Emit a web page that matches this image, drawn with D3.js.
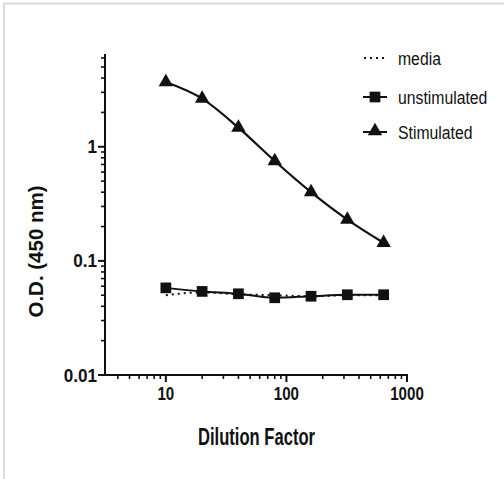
<!DOCTYPE html>
<html>
<head>
<meta charset="utf-8">
<script src="https://cdn.jsdelivr.net/npm/d3@7"></script>
<style>
  body { margin: 0; background: #fff; }
  text { font-family: "Liberation Sans", Arial, sans-serif; fill: #111; }
</style>
</head>
<body>
<svg id="chart" width="504" height="479"></svg>
<script>
// data
var dilution = [10, 20, 40, 80, 160, 320, 640];
var media = [0.050, 0.053, 0.051, 0.050, 0.049, 0.050, 0.050];
var unstimulated = [0.058, 0.054, 0.0515, 0.0475, 0.049, 0.0505, 0.0505];
var stimulated = [3.69, 2.64, 1.47, 0.75, 0.40, 0.23, 0.144];

var xTickValues = [10, 100, 1000];
var xTickLabels = ["10", "100", "1000"];
var yTickValues = [0.01, 0.1, 1];
var yTickLabels = ["0.01", "0.1", "1"];
var xMinorTicks = [4, 5, 6, 7, 8, 9, 20, 30, 40, 50, 60, 70, 80, 90, 200, 300, 400, 500, 600, 700, 800, 900];
var yMinorTicks = [0.02, 0.03, 0.04, 0.05, 0.06, 0.07, 0.08, 0.09, 0.2, 0.3, 0.4, 0.5, 0.6, 0.7, 0.8, 0.9, 2, 3, 4, 5, 6];

var seriesNames = ["media", "unstimulated", "Stimulated"];

var svg = d3.select("#chart");

// light frame around the picture
svg.append("rect")
    .attr("x", 4).attr("y", 3.5)
    .attr("width", 520).attr("height", 500)
    .attr("fill", "none")
    .attr("stroke", "#dcdcdc")
    .attr("stroke-width", 2);

var x = d3.scaleLog().domain([3.13, 1000]).range([105, 407]);
var y = d3.scaleLog().domain([0.01, 6.5]).range([375, 54]);

// squeeze text horizontally (the picture's fonts are narrow)
function squeeze(sel, f) {
    sel.each(function () {
        var w = this.getComputedTextLength();
        d3.select(this).attr("textLength", w * f).attr("lengthAdjust", "spacingAndGlyphs");
    });
}

// x axis
var xAxis = svg.append("g");
xAxis.append("line")
    .attr("x1", x.range()[0] - 1).attr("x2", x.range()[1] + 1)
    .attr("y1", 375).attr("y2", 375)
    .attr("stroke", "#111").attr("stroke-width", 2);
xAxis.selectAll("line.major").data(xTickValues).enter().append("line")
    .attr("class", "major")
    .attr("x1", d => x(d)).attr("x2", d => x(d))
    .attr("y1", 375).attr("y2", 382)
    .attr("stroke", "#111").attr("stroke-width", 2);
xAxis.selectAll("line.minor").data(xMinorTicks).enter().append("line")
    .attr("class", "minor")
    .attr("x1", d => x(d)).attr("x2", d => x(d))
    .attr("y1", 375).attr("y2", 379)
    .attr("stroke", "#111").attr("stroke-width", 1.6);
var xt = xAxis.selectAll("text").data(xTickValues).enter().append("text")
    .attr("x", d => x(d)).attr("y", 400)
    .attr("text-anchor", "middle")
    .style("font-size", "18px").style("font-weight", "bold")
    .text((d, i) => xTickLabels[i]);
squeeze(xt, 0.84);

// y axis
var yAxis = svg.append("g");
yAxis.append("line")
    .attr("x1", 105).attr("x2", 105)
    .attr("y1", y.range()[0] + 1).attr("y2", y.range()[1])
    .attr("stroke", "#111").attr("stroke-width", 2);
yAxis.selectAll("line.major").data(yTickValues).enter().append("line")
    .attr("class", "major")
    .attr("x1", 98).attr("x2", 105)
    .attr("y1", d => y(d)).attr("y2", d => y(d))
    .attr("stroke", "#111").attr("stroke-width", 2);
yAxis.selectAll("line.minor").data(yMinorTicks).enter().append("line")
    .attr("class", "minor")
    .attr("x1", 101).attr("x2", 105)
    .attr("y1", d => y(d)).attr("y2", d => y(d))
    .attr("stroke", "#111").attr("stroke-width", 1.6);
var yt = yAxis.selectAll("text").data(yTickValues).enter().append("text")
    .attr("x", 97).attr("y", d => y(d) + 6.5)
    .attr("text-anchor", "end")
    .style("font-size", "18px").style("font-weight", "bold")
    .text((d, i) => yTickLabels[i]);
squeeze(yt, 0.95);

// axis titles
svg.append("text")
    .attr("x", 256.5).attr("y", 445)
    .attr("text-anchor", "middle")
    .attr("textLength", 117).attr("lengthAdjust", "spacingAndGlyphs")
    .style("font-size", "24px").style("font-weight", "bold")
    .text("Dilution Factor");

svg.append("text")
    .attr("transform", "translate(43,251.5) rotate(-90)")
    .attr("text-anchor", "middle")
    .style("font-size", "20.5px").style("font-weight", "bold")
    .text("O.D. (450 nm)");

// series
function pts(vals) {
    return dilution.map((d, i) => [x(d), y(vals[i])]);
}
var line = d3.line().curve(d3.curveMonotoneX);

var plot = svg.append("g");
plot.append("path")
    .attr("d", line(pts(media)))
    .attr("fill", "none").attr("stroke", "#111")
    .attr("stroke-width", 2).attr("stroke-dasharray", "2,4");
plot.append("path")
    .attr("d", line(pts(unstimulated)))
    .attr("fill", "none").attr("stroke", "#111").attr("stroke-width", 2);
plot.append("path")
    .attr("d", line(pts(stimulated)))
    .attr("fill", "none").attr("stroke", "#111").attr("stroke-width", 2.2);

var square = d3.symbol().type(d3.symbolSquare).size(115);
var triangle = d3.symbol().type(d3.symbolTriangle).size(90);

plot.selectAll("path.sq").data(pts(unstimulated)).enter().append("path")
    .attr("class", "sq")
    .attr("d", square)
    .attr("transform", d => `translate(${d[0]},${d[1]})`)
    .attr("fill", "#111");
plot.selectAll("path.tri").data(pts(stimulated)).enter().append("path")
    .attr("class", "tri")
    .attr("d", triangle)
    .attr("transform", d => `translate(${d[0]},${d[1]})`)
    .attr("fill", "#111");

// legend
var legend = svg.append("g");
var rowY = [58, 97, 132];
legend.append("line")
    .attr("x1", 364).attr("x2", 386).attr("y1", rowY[0]).attr("y2", rowY[0])
    .attr("stroke", "#111").attr("stroke-width", 2).attr("stroke-dasharray", "2,4");
legend.append("line")
    .attr("x1", 363).attr("x2", 387).attr("y1", rowY[1]).attr("y2", rowY[1])
    .attr("stroke", "#111").attr("stroke-width", 2);
legend.append("path").attr("d", square)
    .attr("transform", `translate(375,${rowY[1]})`).attr("fill", "#111");
legend.append("line")
    .attr("x1", 363).attr("x2", 387).attr("y1", rowY[2]).attr("y2", rowY[2])
    .attr("stroke", "#111").attr("stroke-width", 2);
legend.append("path").attr("d", triangle)
    .attr("transform", `translate(375,${rowY[2] - 1})`).attr("fill", "#111");
var lt = legend.selectAll("text").data(seriesNames).enter().append("text")
    .attr("x", 398).attr("y", (d, i) => rowY[i] + 7)
    .style("font-size", "17.5px")
    .text(d => d);
squeeze(lt, 0.9);
</script>
</body>
</html>
